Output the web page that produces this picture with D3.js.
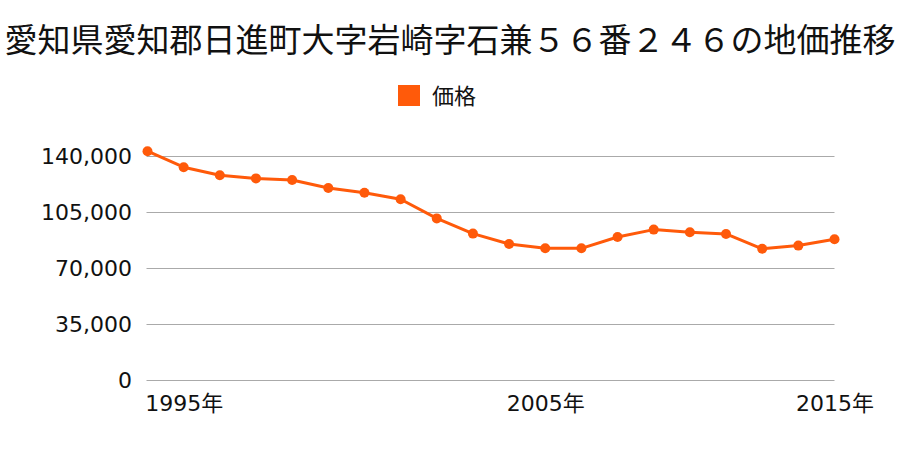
<!DOCTYPE html>
<html><head><meta charset="utf-8">
<script src="https://cdn.jsdelivr.net/npm/d3@7"></script>
<style>
html,body{margin:0;padding:0;background:#fff;}
svg{display:block;}
</style>
</head><body>
<svg id="chart" width="900" height="450"></svg>
<script>
const title = "愛知県愛知郡日進町大字岩崎字石兼５６番２４６の地価推移";
const seriesName = "価格";
const years = ["1994","1995","1996","1997","1998","1999","2000","2001","2002","2003","2004","2005","2006","2008","2009","2010","2012","2013","2014","2015"];
const prices = [143000,133000,128000,126000,125000,120000,117000,113000,101000,91500,85000,82300,82300,89400,94000,92300,91300,82000,84000,88000];
const yTicks = [0,35000,70000,105000,140000];
const xTickYears = ["1995","2005","2015"];

const svg = d3.select("#chart");
const color = "#ff5a0a";
const fontNum = "'DejaVu Sans','Noto Sans CJK JP',sans-serif";
const fontJa = "'Noto Sans CJK JP',sans-serif";

const x = d3.scalePoint().domain(years).range([147.5, 834.5]).padding(0);
const y = d3.scaleLinear().domain([0,140000]).range([380,156]);

svg.append("text").attr("x",450).attr("y",52).attr("text-anchor","middle")
  .attr("font-family",fontJa).attr("font-size",33).attr("fill","#111").text(title);

const lg = svg.append("g");
lg.append("rect").attr("x",398).attr("y",85).attr("width",22).attr("height",21).attr("fill",color);
lg.append("text").attr("x",432).attr("y",104).attr("font-family",fontJa).attr("font-size",22).attr("fill","#111").text(seriesName);

// gridlines
svg.append("g").selectAll("line").data(yTicks).join("line")
  .attr("x1",x.range()[0]-1).attr("x2",x.range()[1])
  .attr("y1",d=>y(d)+0.5).attr("y2",d=>y(d)+0.5)
  .attr("stroke","#aaaaaa").attr("stroke-width",1);

// y axis labels
const yAxis = d3.axisLeft(y).tickValues(yTicks).tickSize(0).tickPadding(0).tickFormat(d3.format(","));
const ya = svg.append("g").attr("transform","translate(132,0)").call(yAxis);
ya.select(".domain").remove();
ya.selectAll("text").attr("font-family",fontNum).attr("font-size",22).attr("fill","#111").attr("dy","0.36em");

// x axis labels
const xAxis = d3.axisBottom(x).tickValues(xTickYears).tickSize(0).tickPadding(0).tickFormat(d=>d+"年");
const xa = svg.append("g").attr("transform","translate(0,393)").call(xAxis);
xa.select(".domain").remove();
xa.selectAll("text").attr("font-family",fontNum).attr("font-size",22).attr("fill","#111").attr("dy","0.82em");

// line
const line = d3.line().x((d,i)=>x(years[i])).y(d=>y(d));
svg.append("path").datum(prices).attr("d",line).attr("fill","none")
  .attr("stroke",color).attr("stroke-width",3).attr("stroke-linejoin","round");
svg.append("g").selectAll("circle").data(prices).join("circle")
  .attr("cx",(d,i)=>x(years[i])).attr("cy",d=>y(d)).attr("r",5).attr("fill",color);
</script>
</body></html>
